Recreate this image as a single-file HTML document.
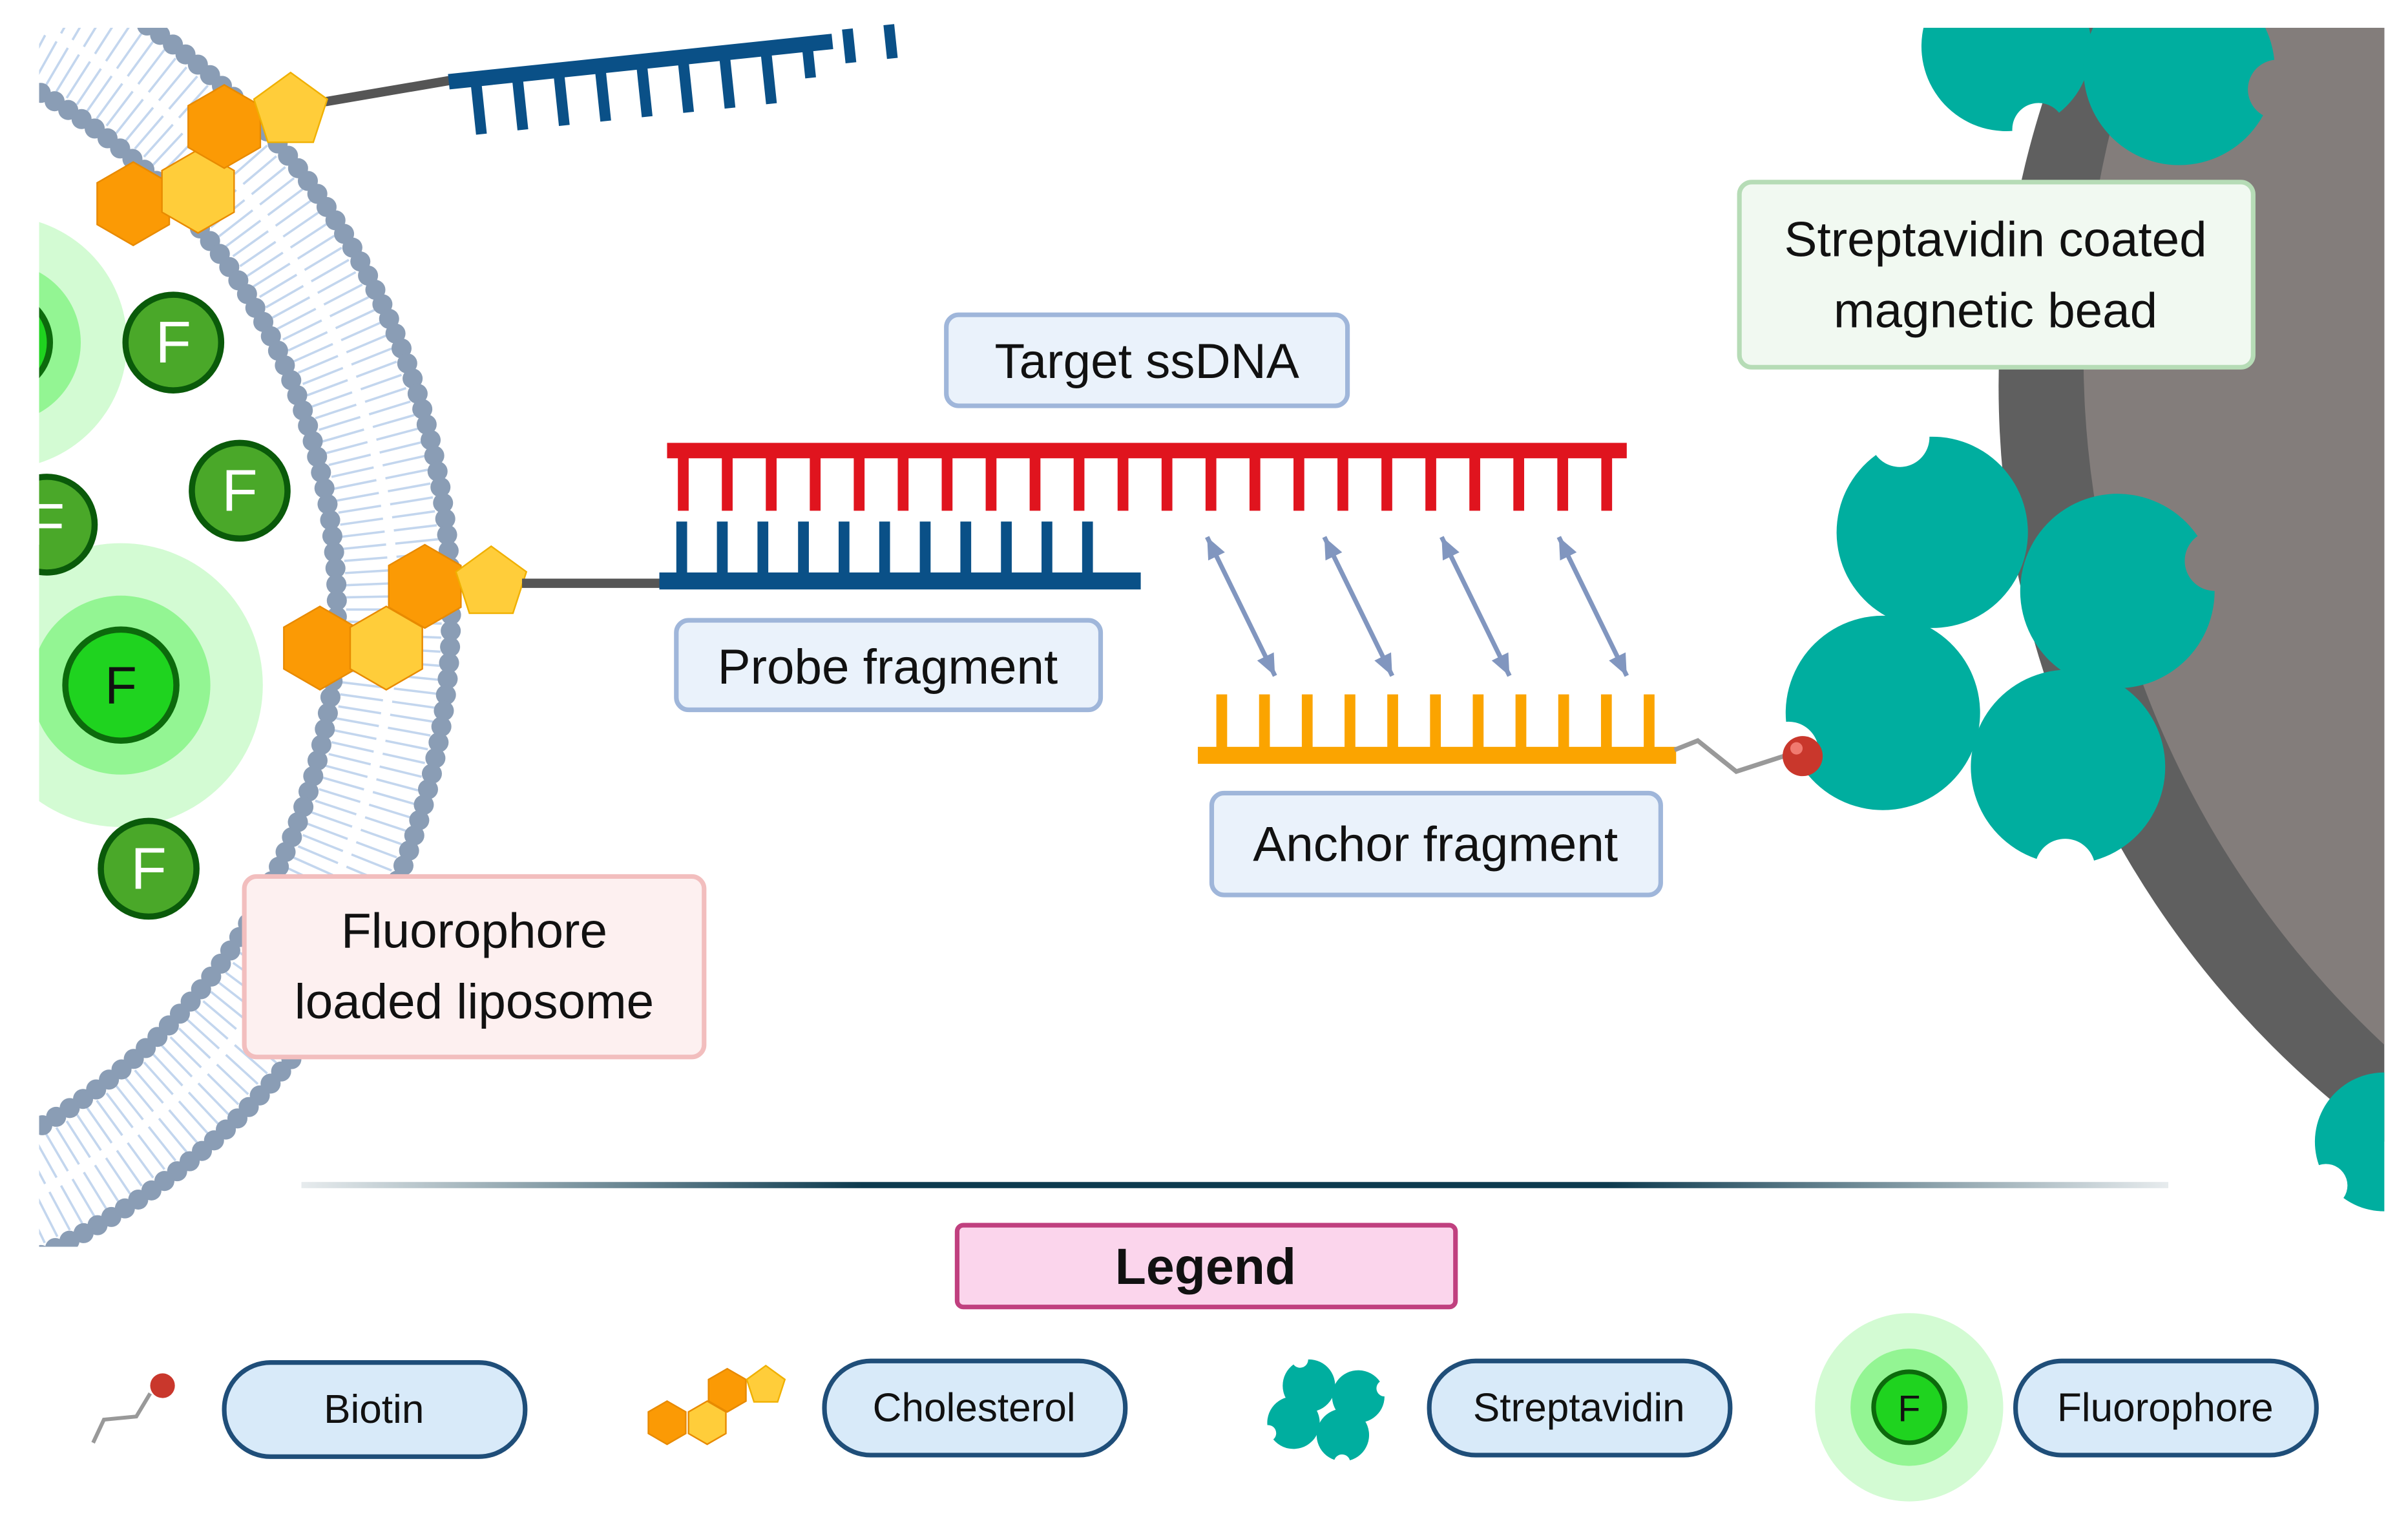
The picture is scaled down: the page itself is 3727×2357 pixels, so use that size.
<!DOCTYPE html>
<html><head><meta charset="utf-8"><style>
html,body{margin:0;padding:0;background:#fff;}
svg{display:block;}
text{font-family:"Liberation Sans",sans-serif;}
</style></head><body>
<svg id="s" xmlns="http://www.w3.org/2000/svg" width="3727" height="2357" viewBox="0 0 1560 987">
<defs>
<clipPath id="main"><rect x="25" y="18" width="1520" height="790"/></clipPath>
<linearGradient id="div" x1="0" x2="1" y1="0" y2="0">
<stop offset="0" stop-color="#0d3b4f" stop-opacity="0.1"/><stop offset="0.3" stop-color="#0d3b4f"/><stop offset="0.7" stop-color="#0d3b4f"/><stop offset="1" stop-color="#0d3b4f" stop-opacity="0.1"/></linearGradient>
</defs>
<rect width="1560" height="987" fill="#fff"/>
<g clip-path="url(#main)" id="mg">
  <circle cx="1900" cy="250" r="605" fill="#5f5f5f"/>
  <circle cx="1960" cy="230" r="610" fill="#837d7b"/>
  <circle cx="78" cy="444" r="92" fill="#d3fbd3"/>
  <circle cx="78" cy="444" r="58" fill="#93f593"/>
  <circle cx="78" cy="444" r="36" fill="#1fd31f" stroke="#0c6a0c" stroke-width="4"/>
  <text x="78" y="456" font-size="34" text-anchor="middle" fill="#111">F</text>
  <circle cx="0" cy="222" r="82" fill="#d3fbd3"/>
  <circle cx="0" cy="222" r="52" fill="#93f593"/>
  <circle cx="0" cy="222" r="32" fill="#1fd31f" stroke="#0c6a0c" stroke-width="4"/>
  <g id="lipo"></g>
  <g id="fl"></g>
  <g id="blobs"></g>
</g>
<line x1="210" y1="66" x2="292" y2="52" stroke="#555" stroke-width="6"/>
<g id="topdna"></g>
<g id="chol"></g>
<line x1="338" y1="378" x2="432" y2="378" stroke="#555" stroke-width="6"/>
<g id="dna"></g>
<g id="arr" stroke="#8196bf" stroke-width="3" fill="#8196bf"></g>
<polyline points="1085,486 1100,480 1125,500 1162,488" fill="none" stroke="#999" stroke-width="3"/>
<circle cx="1168" cy="490" r="13" fill="#c9372c"/>
<circle cx="1164" cy="485" r="4" fill="#f07a70"/>
<g font-size="32" fill="#111" text-anchor="middle">
<rect x="613" y="204" width="260" height="59" rx="8" fill="#eaf2fb" stroke="#9fb6da" stroke-width="3"/>
<text x="743" y="245">Target ssDNA</text>
<rect x="438" y="402" width="275" height="58" rx="8" fill="#eaf2fb" stroke="#9fb6da" stroke-width="3"/>
<text x="575" y="443">Probe fragment</text>
<rect x="785" y="514" width="291" height="66" rx="8" fill="#eaf2fb" stroke="#9fb6da" stroke-width="3"/>
<text x="930" y="558">Anchor fragment</text>
<rect x="1127" y="118" width="333" height="120" rx="8" fill="#f1f9f1" stroke="#b6dcb6" stroke-width="3"/>
<text x="1293" y="166">Streptavidin coated</text>
<text x="1293" y="212">magnetic bead</text>
<rect x="158" y="568" width="298" height="117" rx="8" fill="#fdf0f0" stroke="#f2bebe" stroke-width="3"/>
<text x="307" y="614">Fluorophore</text>
<text x="307" y="660">loaded liposome</text>
</g>
<rect x="195" y="766" width="1210" height="4" fill="url(#div)"/>
<rect x="620" y="794" width="323" height="53" rx="4" fill="#fbd5ec" stroke="#c0407f" stroke-width="3"/>
<text x="781" y="832" font-size="33" font-weight="bold" text-anchor="middle" fill="#111">Legend</text>
<g font-size="26" text-anchor="middle" fill="#111">
<rect x="145" y="883" width="195" height="61" rx="30" fill="#d8eaf9" stroke="#1f4e79" stroke-width="3"/><text x="242" y="922">Biotin</text>
<rect x="534" y="882" width="195" height="61" rx="30" fill="#d8eaf9" stroke="#1f4e79" stroke-width="3"/><text x="631" y="921">Cholesterol</text>
<rect x="926" y="882" width="195" height="61" rx="30" fill="#d8eaf9" stroke="#1f4e79" stroke-width="3"/><text x="1023" y="921">Streptavidin</text>
<rect x="1306" y="882" width="195" height="61" rx="30" fill="#d8eaf9" stroke="#1f4e79" stroke-width="3"/><text x="1403" y="921">Fluorophore</text>
</g>
<polyline points="60,935 67,920 88,918 97,903" fill="none" stroke="#999" stroke-width="2.5"/>
<circle cx="105" cy="898" r="8" fill="#c9372c"/>
<circle cx="1237" cy="912" r="61" fill="#d3fbd3"/>
<circle cx="1237" cy="912" r="38" fill="#93f593"/>
<circle cx="1237" cy="912" r="23" fill="#1fd31f" stroke="#0c6a0c" stroke-width="3"/>
<text x="1237" y="921" font-size="24" text-anchor="middle" fill="#111">F</text>
<g id="leg"></g>
<script>
var NS="http://www.w3.org/2000/svg";
function el(p,t,a){var e=document.createElementNS(NS,t);for(var k in a)e.setAttribute(k,a[k]);p.appendChild(e);return e;}
var $=function(i){return document.getElementById(i)};
var L=$("lipo"),cx=-170,cy=395,R1=462,R2=388;
for(var a=-1.5;a<=1.5;a+=0.02){var c=Math.cos(a),s=Math.sin(a),rm=(R1+R2)/2;
 el(L,"line",{x1:cx+(R1-6)*c,y1:cy+(R1-6)*s,x2:cx+(rm+3)*c,y2:cy+(rm+3)*s,stroke:"#c3d6ee","stroke-width":1.5});
 el(L,"line",{x1:cx+(rm-3)*c,y1:cy+(rm-3)*s,x2:cx+(R2+6)*c,y2:cy+(R2+6)*s,stroke:"#c3d6ee","stroke-width":1.5});}
for(var a=-1.5;a<=1.5;a+=0.0225){el(L,"circle",{cx:cx+R1*Math.cos(a),cy:cy+R1*Math.sin(a),r:6.5,fill:"#8a9db5"});}
for(var a=-1.5;a<=1.5;a+=0.027){el(L,"circle",{cx:cx+R2*Math.cos(a),cy:cy+R2*Math.sin(a),r:6.5,fill:"#8a9db5"});}
var F=$("fl");[[112,222],[155,318],[30,340],[96,563]].forEach(function(p){
 el(F,"circle",{cx:p[0],cy:p[1],r:31,fill:"#4aa829",stroke:"#0a5a0a","stroke-width":4});
 var t=el(F,"text",{x:p[0],y:p[1]+13,"font-size":38,"text-anchor":"middle",fill:"#fff"});t.textContent="F";});
function hex(g,x,y,r,f){var p=[];for(var i=0;i<6;i++){var a=Math.PI/6+i*Math.PI/3;p.push((x+r*Math.cos(a))+","+(y+r*Math.sin(a)));}el(g,"polygon",{points:p.join(" "),fill:f,stroke:"#e88a00","stroke-width":1});}
function pent(g,x,y,r,f){var p=[];for(var i=0;i<5;i++){var a=-Math.PI/2+i*2*Math.PI/5;p.push((x+r*Math.cos(a))+","+(y+r*Math.sin(a)));}el(g,"polygon",{points:p.join(" "),fill:f,stroke:"#f0b000","stroke-width":1});}
var C=$("chol");
hex(C,86,132,27,"#fb9a05");hex(C,128,124,27,"#ffcd3a");hex(C,145,82,27,"#fb9a05");pent(C,188,72,25,"#ffcd3a");
hex(C,207,420,27,"#fb9a05");hex(C,250,420,27,"#ffcd3a");hex(C,275,380,27,"#fb9a05");pent(C,318,378,24,"#ffcd3a");
var G=$("leg");hex(G,432,922,14,"#fb9a05");hex(G,458,922,14,"#ffcd3a");hex(G,471,901,14,"#fb9a05");pent(G,496,898,13,"#ffcd3a");
var D=$("dna");
el(D,"rect",{x:432,y:287,width:622,height:10,fill:"#e0141e"});
for(var x=442;x<1050;x+=28.5)el(D,"rect",{x:x-3,y:295,width:7,height:36,fill:"#e0141e"});
el(D,"rect",{x:427,y:371,width:312,height:11,fill:"#0a5087"});
for(var x=441;x<730;x+=26.3)el(D,"rect",{x:x-3,y:338,width:7,height:36,fill:"#0a5087"});
el(D,"rect",{x:776,y:484,width:310,height:11,fill:"#fba400"});
for(var x=791;x<1080;x+=27.7)el(D,"rect",{x:x-3,y:450,width:7,height:36,fill:"#fba400"});
var T=el($("topdna"),"g",{transform:"translate(290,48) rotate(-6)"});
el(T,"rect",{x:0,y:0,width:250,height:10,fill:"#0a5087"});
for(var i=0;i<11;i++){var x=14+i*27;el(T,"rect",{x:x,y:i<9?5:-2,width:7,height:i<8?36:22,fill:"#0a5087"});}
var A=$("arr");
function arrow(x1,y1,x2,y2){el(A,"line",{x1:x1,y1:y1,x2:x2,y2:y2});
 [[x1,y1,x2,y2],[x2,y2,x1,y1]].forEach(function(q){var dx=q[2]-q[0],dy=q[3]-q[1],l=Math.hypot(dx,dy),ux=dx/l,uy=dy/l;
  var bx=q[0]+ux*14,by=q[1]+uy*14;el(A,"polygon",{points:q[0]+","+q[1]+" "+(bx-uy*6)+","+(by+ux*6)+" "+(bx+uy*6)+","+(by-ux*6),stroke:"none"});});}
[782,858,934,1010].forEach(function(x){arrow(x,348,x+44,438);});
function blob(g,x,y,r,na){var w=0.3;var a1=na+w,a2=na-w;
 var P=function(a){return (x+r*Math.cos(a))+","+(y+r*Math.sin(a));};
 var p="M"+P(a1)+" A"+r+","+r+" 0 1 1 "+P(a2);
 var rr=r*Math.sin(w)*1.05;
 p+=" A"+rr+","+rr+" 0 0 0 "+P(a1)+"Z";
 el(g,"path",{d:p,fill:"#00ae9f"});}
var B=$("blobs");
blob(B,1252,345,62,-1.9);blob(B,1372,383,63,-0.3);blob(B,1220,462,63,2.75);blob(B,1340,497,63,1.6);
blob(B,1300,30,55,1.2);blob(B,1412,45,62,0.2);blob(B,1545,740,45,2.5);
var BL=$("leg");blob(BL,848,898,17,-1.9);blob(BL,880,905,17,-0.3);blob(BL,838,922,17,2.75);blob(BL,870,930,17,1.6);
</script>
</svg>
</body></html>
